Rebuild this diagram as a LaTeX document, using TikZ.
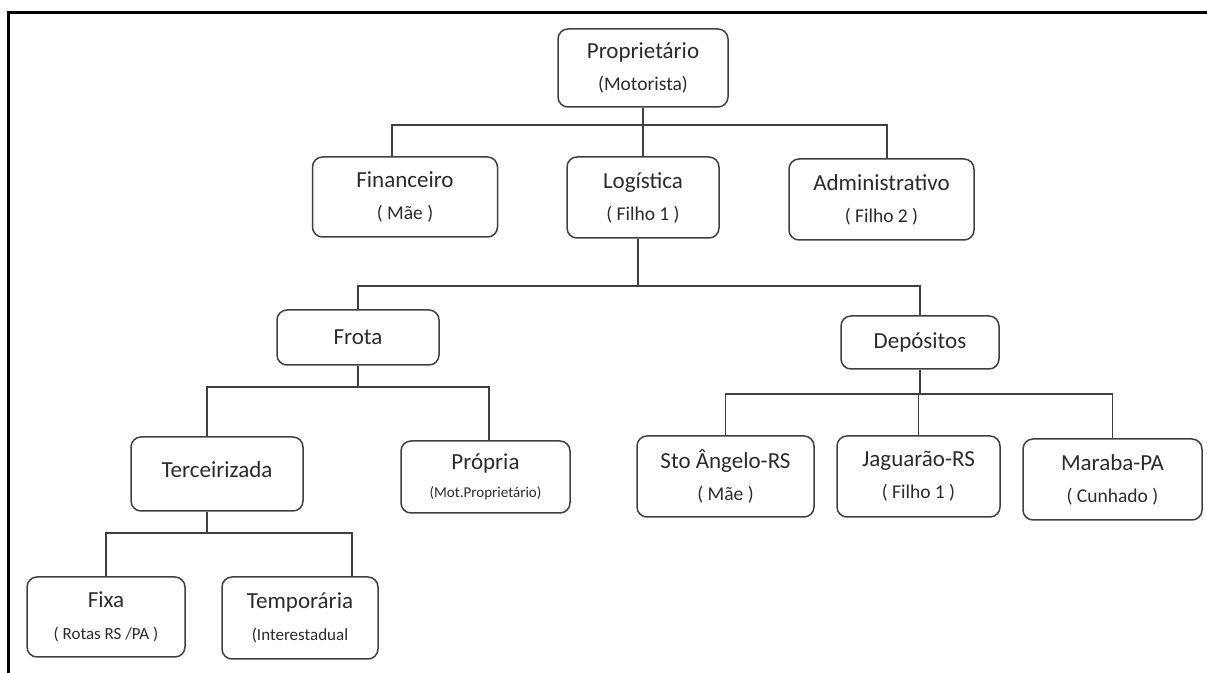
\documentclass[tikz,border=0pt]{standalone}
\usepackage{fontspec}
\setmainfont{Carlito}
\usetikzlibrary{calc}

\definecolor{boxline}{HTML}{404040}
\definecolor{boxtext}{HTML}{2B2B2B}
\newcommand{\subline}[1]{{\fontsize{9.75}{16}\selectfont #1}}
\newcommand{\smallline}[1]{{\fontsize{8.5}{16}\selectfont #1}}
\newcommand{\tinyline}[1]{{\fontsize{7.5}{12}\selectfont #1}}

\begin{document}
\begin{tikzpicture}[x=0.5pt, y=-0.5pt,
  box/.style={draw=boxline, line width=0.75pt, rounded corners=5pt, align=center,
    text=boxtext, inner sep=0pt, font=\fontsize{11.5}{16}\selectfont},
  wh/.style 2 args={minimum width=#1*0.5pt, minimum height=#2*0.5pt},
  link/.style={draw=boxline, line width=0.7pt}]
  \useasboundingbox (0,0) rectangle (1207,673);
  \draw[line width=1.5pt] (8.5,673) -- (8.5,12.5) -- (1207,12.5);

  \node[box, wh={170}{78}] (prop) at (643,68) {Proprietário\\\subline{(Motorista)}};

  \node[box, wh={185}{80}] (fin) at (405,197) {Financeiro\\\subline{( Mãe )}};
  \node[box, wh={152}{81}] (log) at (643,197.5) {Logística\\\subline{( Filho 1 )}};
  \node[box, wh={185}{81}] (adm) at (881.5,199.5) {Administrativo\\\subline{( Filho 2 )}};

  \node[box, wh={162}{55}] (frota) at (358,337.5) {Frota};
  \node[box, wh={158}{53}] (dep) at (920,342.5) {Depósitos};

  \node[box, wh={172}{74}] (terc) at (217,474) {\raisebox{4.5pt}{Terceirizada}};
  \node[box, wh={169}{72}] (propria) at (485.5,477) {Própria\\[-2pt]\tinyline{(Mot.Proprietário)}};

  \node[box, wh={177}{81}] (sto) at (725.5,476.5) {Sto Ângelo-RS\\\subline{( Mãe )}};
  \node[box, wh={163}{81}] (jag) at (918.5,476.5) {Jaguarão-RS\\\subline{( Filho 1 )}};
  \node[box, wh={179}{81}] (mar) at (1112.5,479.5) {Maraba-PA\\\subline{( Cunhado )}};

  \node[box, wh={158}{80}] (fixa) at (106,617) {Fixa\\\smallline{( Rotas RS /PA )}};
  \node[box, wh={156}{82}] (temp) at (300,618) {Temporária\\\smallline{(Interestadual}};

  \coordinate (bus1) at (0,125);
  \coordinate (bus2) at (0,286);
  \coordinate (bus3) at (0,387);
  \coordinate (bus4) at (0,394);
  \coordinate (bus5) at (0,533);
  \coordinate (finin) at ([xshift=-6.5pt]fin.north);
  \coordinate (admin) at ([xshift=2.75pt]adm.north);
  \coordinate (logout) at ([xshift=-2.5pt]log.south);
  \coordinate (tercin) at ([xshift=-5pt]terc.north);
  \coordinate (tercout) at ([xshift=-5pt]terc.south);
  \coordinate (propin) at ([xshift=1.75pt]propria.north);
  \coordinate (tempin) at ([xshift=26pt]temp.north);

  \draw[link] (prop.south) -- (prop.south |- log.north);
  \draw[link] (finin) |- (admin |- bus1) -- (admin);

  \draw[link] (logout) -- (logout |- bus2);
  \draw[link] (frota.north) |- (dep.north |- bus2) -- (dep.north);

  \draw[link] (frota.south) -- (frota.south |- bus3);
  \draw[link] (tercin) |- (propin |- bus3) -- (propin);

  \draw[link] (dep.south) -- (dep.south |- bus4);
  \draw[link] (sto.north) |- (mar.north |- bus4) -- (mar.north);
  \draw[link] (jag.north) -- (jag.north |- bus4);

  \draw[link] (tercout) -- (tercout |- bus5);
  \draw[link] (fixa.north) |- (tempin |- bus5) -- (tempin);
\end{tikzpicture}
\end{document}
